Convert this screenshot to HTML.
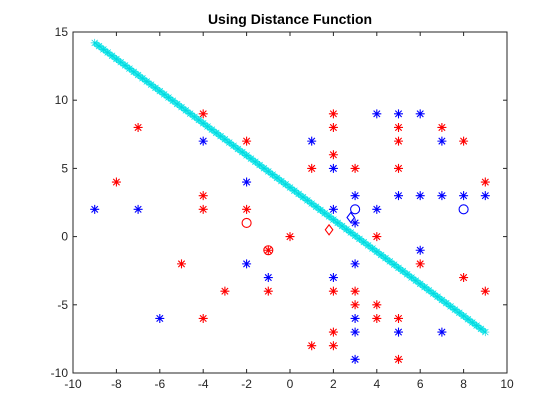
<!DOCTYPE html>
<html><head><meta charset="utf-8"><style>body{margin:0;background:#fff}svg{display:block;font-family:"Liberation Sans",Arial,sans-serif}</style></head>
<body>
<svg id="c" width="560" height="420" xmlns="http://www.w3.org/2000/svg">
<rect width="560" height="420" fill="#fff"/>
<text x="290" y="24" text-anchor="middle" font-size="14" font-weight="bold" fill="#000">Using Distance Function</text>
<g id="plot"></g>
</svg>
<script>
const xTicks=[-10,-8,-6,-4,-2,0,2,4,6,8,10];
const yTicks=[-10,-5,0,5,10,15];
const redX=[-4,-7,-2,-8,-4,-4,-2,0,-1,-5,-3,-1,-4,2,2,5,7,5,8,2,1,3,5,9,4,6,8,2,3,9,3,4,4,5,2,1,2,5];
const redY=[9,8,7,4,3,2,2,0,-1,-2,-4,-4,-6,9,8,8,8,7,7,6,5,5,5,4,0,-2,-3,-4,-4,-4,-5,-5,-6,-6,-7,-8,-8,-9];
const blueX=[-4,-2,-9,-7,-2,-1,-6,4,5,6,1,7,2,3,5,6,7,8,9,2,4,3,6,3,2,3,3,5,7,3];
const blueY=[7,4,2,2,-2,-3,-6,9,9,9,7,7,5,3,3,3,3,3,3,2,2,1,-1,-2,-3,-6,-7,-7,-7,-9];
const redCircX=[-2,-1], redCircY=[1,-1];
const blueCircX=[3,8], blueCircY=[2,2];
const redDiaX=[1.8], redDiaY=[0.5];
const blueDiaX=[2.8], blueDiaY=[1.4];
const lineX=[-9,9], lineY=[14.2,-7];

const L=73,R=507,T=32,B=373;
const sx=v=>L+(v+10)/20*(R-L);
const sy=v=>B-(v+10)/25*(B-T);
const g=document.getElementById('plot');
const NS='http://www.w3.org/2000/svg';
function mk(t,a){const e=document.createElementNS(NS,t);for(const k in a)e.setAttribute(k,a[k]);g.appendChild(e);return e;}
const fr=mk('rect',{x:L,y:T,width:R-L,height:B-T,fill:'none',stroke:'#262626','stroke-width':1});


xTicks.forEach(v=>{const x=sx(v);
 mk('line',{x1:x,y1:B,x2:x,y2:B-4,stroke:'#262626'});mk('line',{x1:x,y1:T,x2:x,y2:T+4,stroke:'#262626'});
 const t=mk('text',{x:x,y:B+15,'text-anchor':'middle','font-size':12,fill:'#262626'});t.textContent=v;
 
 });
yTicks.forEach(v=>{const y=sy(v);
 mk('line',{x1:L,y1:y,x2:L+4,y2:y,stroke:'#262626'});mk('line',{x1:R,y1:y,x2:R-4,y2:y,stroke:'#262626'});
 const t=mk('text',{x:L-5,y:y+4,'text-anchor':'end','font-size':12,fill:'#262626'});t.textContent=v;
 
 });
const x1=sx(lineX[0]),y1=sy(lineY[0]),x2=sx(lineX[1]),y2=sy(lineY[1]);
const ln=mk('line',{x1,y1,x2,y2,stroke:'#40f0f0','stroke-width':6});


const n=90;for(let i=0;i<=n;i++){const x=x1+(x2-x1)*i/n,y=y1+(y2-y1)*i/n;
 mk('path',{d:`M${x-4},${y}H${x+4}M${x},${y-4}V${y+4}M${x-3},${y-3}L${x+3},${y+3}M${x-3},${y+3}L${x+3},${y-3}`,stroke:'#00d8e0','stroke-width':0.7});}
function star(x,y,c,name){const X=sx(x),Y=sy(y),r=4.5,d=3.2;
 const p=mk('path',{d:`M${X-r},${Y}H${X+r}M${X},${Y-r}V${Y+r}M${X-d},${Y-d}L${X+d},${Y+d}M${X-d},${Y+d}L${X+d},${Y-d}`,stroke:c,'stroke-width':1.1});
 
 }
redX.forEach((x,i)=>star(x,redY[i],'#f00','red-point'));
blueX.forEach((x,i)=>star(x,blueY[i],'#00f','blue-point'));
function circ(x,y,c,name){const e=mk('circle',{cx:sx(x),cy:sy(y),r:4.5,fill:'none',stroke:c,'stroke-width':1.1});
 
 }
redCircX.forEach((x,i)=>circ(x,redCircY[i],'#f00','red-centroid'));
blueCircX.forEach((x,i)=>circ(x,blueCircY[i],'#00f','blue-centroid'));
function dia(x,y,c,name){const X=sx(x),Y=sy(y),r=5;
 const e=mk('path',{d:`M${X},${Y-r}L${X+r*0.75},${Y}L${X},${Y+r}L${X-r*0.75},${Y}Z`,fill:'none',stroke:c,'stroke-width':1.1});
 
 }
redDiaX.forEach((x,i)=>dia(x,redDiaY[i],'#f00','red-mean'));
blueDiaX.forEach((x,i)=>dia(x,blueDiaY[i],'#00f','blue-mean'));
</script>
</body></html>
